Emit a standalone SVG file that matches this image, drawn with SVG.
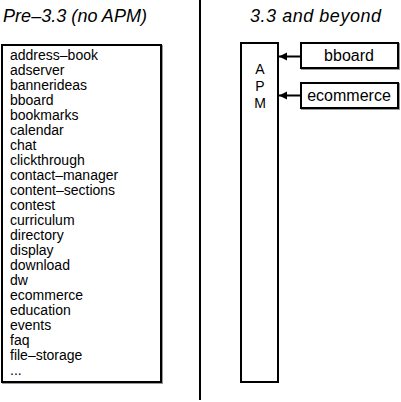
<svg xmlns="http://www.w3.org/2000/svg" width="401" height="402" viewBox="0 0 401 402">
<style>
.box{fill:#fff;stroke:#000;stroke-width:2}
.shadow{fill:none;stroke:#999;stroke-width:2}
.title{font-family:"Liberation Sans",Arial,sans-serif;font-style:italic;font-size:18px;fill:#000}
.item{font-family:"Liberation Sans",Arial,sans-serif;font-size:14px;fill:#000}
.lbl{font-family:"Liberation Sans",Arial,sans-serif;font-size:16px;fill:#000;text-anchor:middle}
.apm{font-family:"Liberation Sans",Arial,sans-serif;font-size:14px;fill:#000;text-anchor:middle}
.conn{stroke:#000;stroke-width:2;fill:none}
</style>
<defs>
<marker id="ah" viewBox="0 0 10 10" refX="10" refY="5" markerWidth="4" markerHeight="5" markerUnits="strokeWidth" orient="auto">
<path d="M0,0 L10,5 L0,10 z" fill="#000"/>
</marker>
</defs>
<rect width="401" height="402" fill="#fff"/>
<text class="title" x="3" y="22" textLength="144">Pre–3.3 (no APM)</text>
<text class="title" x="250" y="22" textLength="131">3.3 and beyond</text>
<line x1="200" y1="0" x2="200" y2="400" stroke="#000" stroke-width="2"/>
<g id="pre33">
<rect class="shadow" x="3" y="46" width="159" height="337"/>
<rect class="box" x="2" y="45" width="159" height="337"/>
<text class="item" x="10" y="60">address–book</text>
<text class="item" x="10" y="75">adserver</text>
<text class="item" x="10" y="90">bannerideas</text>
<text class="item" x="10" y="105">bboard</text>
<text class="item" x="10" y="120">bookmarks</text>
<text class="item" x="10" y="135">calendar</text>
<text class="item" x="10" y="150">chat</text>
<text class="item" x="10" y="165">clickthrough</text>
<text class="item" x="10" y="180">contact–manager</text>
<text class="item" x="10" y="195">content–sections</text>
<text class="item" x="10" y="210">contest</text>
<text class="item" x="10" y="225">curriculum</text>
<text class="item" x="10" y="240">directory</text>
<text class="item" x="10" y="255">display</text>
<text class="item" x="10" y="270">download</text>
<text class="item" x="10" y="285">dw</text>
<text class="item" x="10" y="300">ecommerce</text>
<text class="item" x="10" y="315">education</text>
<text class="item" x="10" y="330">events</text>
<text class="item" x="10" y="345">faq</text>
<text class="item" x="10" y="360">file–storage</text>
<text class="item" x="10" y="375">...</text>
</g>
<g id="apm">
<rect class="box" x="241" y="43" width="37" height="339"/>
<text class="apm" x="260" y="74">A</text>
<text class="apm" x="260" y="91">P</text>
<text class="apm" x="260" y="108">M</text>
</g>
<g id="bboard">
<rect class="shadow" x="302" y="44" width="97" height="25"/>
<rect class="box" x="301" y="43" width="97" height="25"/>
<text class="lbl" x="349" y="61">bboard</text>
</g>
<g id="ecommerce">
<rect class="shadow" x="302" y="84" width="97" height="25"/>
<rect class="box" x="301" y="83" width="97" height="25"/>
<text class="lbl" x="349" y="101">ecommerce</text>
</g>
<g id="connectors">
<line class="conn" x1="300" y1="56.5" x2="279" y2="56.5" marker-end="url(#ah)"/>
<line class="conn" x1="300" y1="95.5" x2="279" y2="95.5" marker-end="url(#ah)"/>
</g>
</svg>
